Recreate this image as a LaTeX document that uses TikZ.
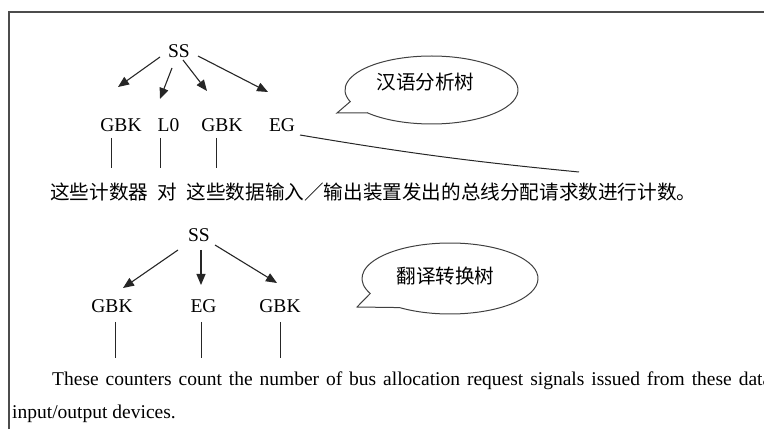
\documentclass[tikz,border=0pt]{standalone}
\usepackage{fontspec}
\setmainfont{Liberation Serif}
\newfontfamily\cjk{Noto Sans CJK SC}
\usetikzlibrary{arrows.meta}
\begin{document}
\begin{tikzpicture}[x=1pt,y=1pt,
  lat/.style={font=\fontsize{19.5pt}{23pt}\selectfont, inner sep=0pt},
  zh/.style={font=\cjk\fontsize{19.6pt}{24pt}\selectfont, inner sep=0pt},
  arr/.style={draw=black!85, line width=1.1pt, -{Triangle[length=11pt,width=9pt]}},
  vline/.style={draw=black!85, line width=1pt},
  frameline/.style={draw=black!70, line width=1.4pt},
  callout/.style={draw=black!75, line width=1pt}]
\useasboundingbox (0,0) rectangle (764,429);
\draw[frameline] (9,0) -- (9,417) -- (764,417);

% ---------- tree 1 ----------
\node[lat] (ss1) at (179,378) {SS};
\node[lat] (gbk1a) at (121,304) {GBK};
\node[lat] (l0) at (168.5,304) {L0};
\node[lat] (gbk1b) at (222,304) {GBK};
\node[lat] (eg1) at (282,304) {EG};

\draw[arr] ([xshift=-19pt,yshift=-6pt]ss1.center) -- ([xshift=-3pt,yshift=38pt]gbk1a.center);
\draw[arr] ([xshift=-7pt,yshift=-17pt]ss1.center) -- ([xshift=-8.5pt,yshift=26pt]l0.center);
\draw[arr] ([xshift=4pt,yshift=-9pt]ss1.center) -- ([xshift=-15pt,yshift=34pt]gbk1b.center);
\draw[arr] ([xshift=19pt,yshift=-5pt]ss1.center) -- ([xshift=-14pt,yshift=33pt]eg1.center);

\draw[vline] ([xshift=-10pt,yshift=-13pt]gbk1a.center) -- ++(0,-30);
\draw[vline] ([xshift=-8.5pt,yshift=-13pt]l0.center) -- ++(0,-30);
\draw[vline] ([xshift=-6pt,yshift=-13pt]gbk1b.center) -- ++(0,-30);

\node[zh, anchor=west] (zhs) at (50,237) {这些计数器\hspace{9.5pt}对\hspace{9.5pt}这些数据输入／输出装置发出的总线分配请求数进行计数。};
\coordinate (egend) at (579,257);
\draw[vline] ([xshift=18pt,yshift=-10pt]eg1.center) to[bend right=2] (egend);

% callout 1
\coordinate (c1) at (431.5,339);
\coordinate (tip1) at (337,316);
\draw[callout] (c1) ++(222:86.5pt and 34pt)
  arc[start angle=222, end angle=560, x radius=86.5pt, y radius=34pt]
  -- (tip1) -- cycle;
\node[zh] (t1) at (425.5,346.5) {汉语分析树};

% ---------- tree 2 ----------
\node[lat] (ss2) at (199,194) {SS};
\node[lat] (gbk2a) at (112,123) {GBK};
\node[lat] (eg2) at (203.5,123) {EG};
\node[lat] (gbk2b) at (280,123) {GBK};

\draw[arr] ([xshift=-21pt,yshift=-15pt]ss2.center) -- ([xshift=11pt,yshift=18pt]gbk2a.center);
\draw[arr] ([xshift=2pt,yshift=-15pt]ss2.center) -- ([xshift=-2.5pt,yshift=21pt]eg2.center);
\draw[arr] ([xshift=16pt,yshift=-10pt]ss2.center) -- ([xshift=-3pt,yshift=23pt]gbk2b.center);

\draw[vline] ([xshift=3pt,yshift=-16pt]gbk2a.center) -- ++(0,-36);
\draw[vline] ([xshift=-1.8pt,yshift=-16pt]eg2.center) -- ++(0,-36);
\draw[vline] ([xshift=0pt,yshift=-16pt]gbk2b.center) -- ++(0,-36);

% callout 2
\coordinate (c2) at (450,150.5);
\coordinate (tip2) at (357,122);
\draw[callout] (c2) ++(235:88pt and 35.5pt)
  arc[start angle=235, end angle=565, x radius=88pt, y radius=35.5pt]
  -- (tip2) -- cycle;
\node[zh] (t2) at (445.5,153) {翻译转换树};

\node[lat, anchor=base west] (en1) at (52,44) {\makebox[719pt][s]{These counters count the number of bus allocation request signals issued from these data}};
\node[lat, anchor=base west] (en2) at (12,11) {input/output devices.};
\end{tikzpicture}
\end{document}
